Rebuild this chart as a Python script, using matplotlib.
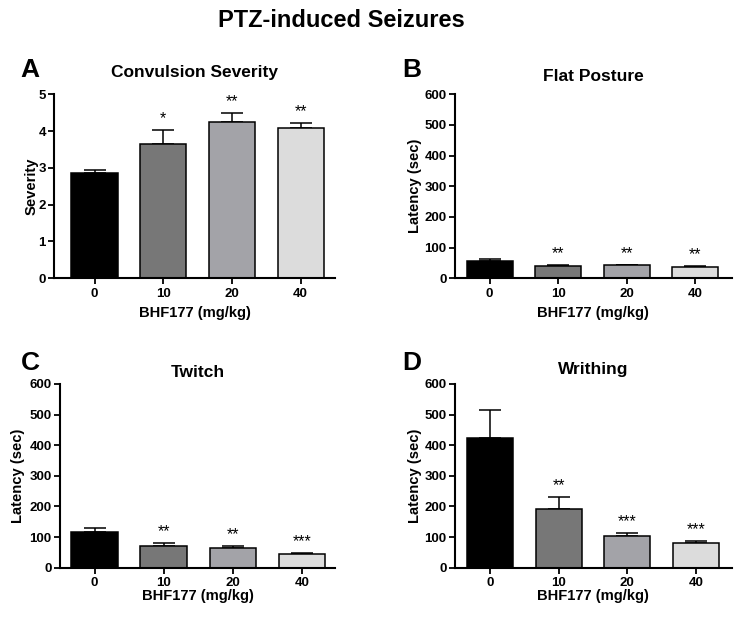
import numpy as np
import matplotlib
matplotlib.use('Agg')
import matplotlib.pyplot as plt

plt.rcParams['font.family'] = ['Liberation Sans', 'DejaVu Sans']

# Data (mean, SEM)
doses = ['0', '10', '20', '40']
bar_colors = ['#000000', '#777777', '#a3a3a8', '#dcdcdc']

severity_mean = [2.85, 3.66, 4.26, 4.08]
severity_sem = [0.09, 0.38, 0.24, 0.15]
severity_stars = ['', '*', '**', '**']

flat_mean = [57, 41, 42, 38]
flat_sem = [6, 3, 2, 2]
flat_stars = ['', '**', '**', '**']

twitch_mean = [118, 71, 63, 46]
twitch_sem = [13, 9, 8, 2]
twitch_stars = ['', '**', '**', '***']

writhing_mean = [422, 192, 102, 82]
writhing_sem = [92, 38, 12, 4]
writhing_stars = ['', '**', '***', '***']

fig = plt.figure(figsize=(7.37, 6.19), dpi=100)

# panel layout: axes rect, xlim, title y, ylabel x, xlabel y, letter pos
panels = [
    dict(rect=[0.0737, 0.5504, 0.3809, 0.2973], xlim=(-0.585, 3.50), ylim=5, step=1,
         mean=severity_mean, sem=severity_sem, stars=severity_stars,
         title='Convulsion Severity', ty=1.092, ylabel='Severity', ylx=-0.057, xly=-0.149,
         letter='A', lpos=(0.027, 0.876)),
    dict(rect=[0.6174, 0.5504, 0.3754, 0.2973], xlim=(-0.503, 3.53), ylim=600, step=100,
         mean=flat_mean, sem=flat_sem, stars=flat_stars,
         title='Flat Posture', ty=1.074, ylabel='Latency (sec)', ylx=-0.120, xly=-0.149,
         letter='B', lpos=(0.546, 0.876)),
    dict(rect=[0.0814, 0.0829, 0.3731, 0.2968], xlim=(-0.50, 3.48), ylim=600, step=100,
         mean=twitch_mean, sem=twitch_sem, stars=twitch_stars,
         title='Twitch', ty=1.040, ylabel='Latency (sec)', ylx=-0.127, xly=-0.117,
         letter='C', lpos=(0.0285, 0.4023)),
    dict(rect=[0.6174, 0.0829, 0.3754, 0.2968], xlim=(-0.51, 3.52), ylim=600, step=100,
         mean=writhing_mean, sem=writhing_sem, stars=writhing_stars,
         title='Writhing', ty=1.054, ylabel='Latency (sec)', ylx=-0.120, xly=-0.117,
         letter='D', lpos=(0.546, 0.4023)),
]

for p in panels:
    ax = fig.add_axes(p['rect'])
    x = np.arange(len(doses))
    ax.bar(x, p['mean'], width=0.67, color=bar_colors, edgecolor='black', linewidth=1.1, zorder=2)
    ax.errorbar(x, p['mean'], yerr=[np.zeros(len(x)), p['sem']], fmt='none', ecolor='black',
                elinewidth=1.1, capsize=8, capthick=1.1, zorder=1)
    for xi, m, s, st in zip(x, p['mean'], p['sem'], p['stars']):
        if st:
            ax.annotate(st, (xi, m + s), xytext=(0, 5), textcoords='offset points',
                        ha='center', va='baseline', fontsize=11.5)
    ax.set_xlim(*p['xlim'])
    ax.set_ylim(0, p['ylim'])
    ax.set_yticks(np.arange(0, p['ylim'] + p['step'], p['step']))
    ax.set_xticks(x)
    ax.set_xticklabels(doses)
    for side in ['top', 'right']:
        ax.spines[side].set_visible(False)
    for side in ['left', 'bottom']:
        ax.spines[side].set_linewidth(1.5)
    ax.tick_params(width=1.3, length=4, labelsize=9.5, pad=2)
    ax.tick_params(axis='x', length=4, pad=3)
    for lab in ax.get_xticklabels() + ax.get_yticklabels():
        lab.set_fontweight('bold')
    ax.set_ylabel(p['ylabel'], fontsize=10.6, fontweight='bold')
    ax.yaxis.set_label_coords(p['ylx'], 0.5)
    ax.set_xlabel('BHF177 (mg/kg)', fontsize=10.6, fontweight='bold')
    ax.xaxis.set_label_coords(0.5, p['xly'])
    ax.text(0.5, p['ty'], p['title'], transform=ax.transAxes, ha='center', va='baseline',
            fontsize=12.5, fontweight='bold')
    fig.text(p['lpos'][0], p['lpos'][1], p['letter'], ha='left', va='baseline',
             fontsize=19, fontweight='bold')

fig.text(0.4634, 0.9569, 'PTZ-induced Seizures', ha='center', va='baseline',
         fontsize=17, fontweight='bold')

fig.savefig('out.png', dpi=100)
